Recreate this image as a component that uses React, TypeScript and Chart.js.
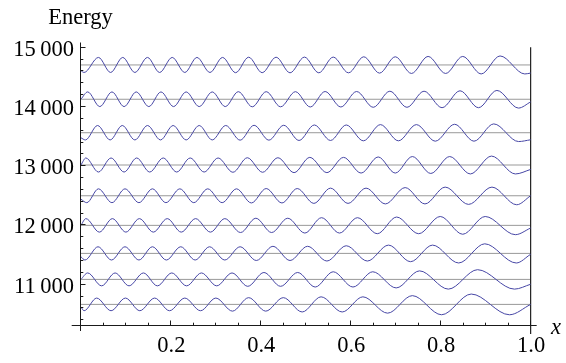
import React, { useEffect, useRef } from 'react';
import { Chart, registerables } from 'chart.js';

Chart.register(...registerables);

// Energy levels (grey horizontal lines), top to bottom
const levels = [14701, 14122, 13557, 13012, 12493, 11993, 11520, 11081, 10659];

// Wave curves: x positions of the read extrema (plus ends) and offsets from the level
const x1 = [0, 0.007, 0.039, 0.066, 0.093, 0.120, 0.148, 0.175, 0.203, 0.231, 0.258, 0.287, 0.315, 0.344, 0.373, 0.403, 0.434, 0.465, 0.497, 0.529, 0.561, 0.595, 0.629, 0.664, 0.699, 0.735, 0.772, 0.811, 0.849, 0.890, 0.932, 0.987, 1];
const d1 = [-97, -127, 127, -127, 127, -127, 127, -127, 127, -127, 127, -127, 127, -131, 131, -131, 131, -133, 133, -133, 133, -133, 138, -138, 138, -144, 144, -144, 144, -152, 152, -152, -137];

const x2 = [0, 0.015, 0.042, 0.069, 0.096, 0.123, 0.151, 0.178, 0.206, 0.234, 0.263, 0.292, 0.321, 0.350, 0.381, 0.412, 0.444, 0.477, 0.510, 0.543, 0.578, 0.613, 0.650, 0.687, 0.725, 0.763, 0.803, 0.843, 0.884, 0.925, 0.973, 1];
const d2 = [0, 124, -124, 124, -124, 124, -124, 124, -124, 124, -124, 124, -124, 128, -128, 128, -128, 128, -131, 131, -131, 131, -136, 136, -136, 136, -143, 143, -143, 149, -149, -45];

const x3 = [0, 0.010, 0.037, 0.065, 0.092, 0.120, 0.148, 0.177, 0.205, 0.234, 0.263, 0.292, 0.322, 0.354, 0.385, 0.418, 0.451, 0.485, 0.519, 0.555, 0.590, 0.628, 0.666, 0.706, 0.746, 0.788, 0.831, 0.874, 0.918, 0.973, 1];
const d3 = [-85, -122, 122, -122, 122, -122, 122, -122, 122, -122, 122, -122, 122, -126, 126, -126, 126, -131, 131, -131, 131, -137, 137, -137, 137, -143, 143, -143, 149, -149, -119];

const x4 = [0, 0.011, 0.039, 0.067, 0.096, 0.124, 0.153, 0.183, 0.213, 0.243, 0.274, 0.305, 0.338, 0.370, 0.404, 0.438, 0.474, 0.509, 0.547, 0.584, 0.623, 0.661, 0.699, 0.737, 0.778, 0.820, 0.866, 0.913, 0.966, 1];
const d4 = [0, 119, -119, 119, -119, 119, -119, 119, -119, 119, -119, 119, -123, 123, -123, 123, -129, 129, -129, 129, -136, 136, -136, 143, -143, 143, -151, 151, -151, -75];

const x5 = [0, 0.013, 0.039, 0.069, 0.098, 0.129, 0.159, 0.189, 0.220, 0.251, 0.282, 0.314, 0.346, 0.379, 0.412, 0.447, 0.481, 0.518, 0.555, 0.594, 0.634, 0.677, 0.721, 0.765, 0.810, 0.862, 0.914, 0.969, 1];
const d5 = [-58, -117, 117, -117, 117, -117, 117, -117, 117, -117, 117, -117, 117, -122, 122, -122, 122, -129, 129, -129, 129, -138, 138, -138, 146, -146, 146, -152, 0];

const x6 = [0, 0.011, 0.041, 0.070, 0.100, 0.130, 0.161, 0.192, 0.223, 0.255, 0.288, 0.320, 0.355, 0.389, 0.424, 0.460, 0.498, 0.535, 0.575, 0.615, 0.659, 0.702, 0.751, 0.799, 0.849, 0.899, 0.966, 1];
const d6 = [0, 114, -114, 114, -114, 114, -114, 114, -114, 114, -114, 114, -121, 121, -121, 121, -130, 130, -130, 130, -141, 141, -141, 150, -150, 150, -157, -45];

const x7 = [0, 0.009, 0.038, 0.068, 0.098, 0.129, 0.159, 0.190, 0.222, 0.254, 0.286, 0.320, 0.354, 0.390, 0.427, 0.465, 0.504, 0.547, 0.590, 0.637, 0.684, 0.733, 0.782, 0.840, 0.898, 0.968, 1];
const d7 = [-56, -112, 112, -112, 112, -112, 112, -112, 112, -112, 112, -112, 112, -120, 120, -120, 120, -129, 129, -129, 140, -140, 140, -162, 162, -162, -15];

const x8 = [0, 0.015, 0.046, 0.076, 0.107, 0.139, 0.170, 0.202, 0.235, 0.268, 0.302, 0.336, 0.371, 0.407, 0.444, 0.482, 0.521, 0.561, 0.605, 0.649, 0.701, 0.753, 0.817, 0.882, 0.964, 1];
const d8 = [0, 109, -109, 109, -109, 109, -109, 109, -109, 109, -109, 109, -117, 117, -117, 117, -129, 129, -129, 129, -144, 144, -164, 164, -164, -82];

const x9 = [0, 0.007, 0.035, 0.067, 0.099, 0.131, 0.164, 0.197, 0.231, 0.266, 0.300, 0.337, 0.373, 0.411, 0.450, 0.492, 0.534, 0.581, 0.627, 0.682, 0.737, 0.802, 0.868, 0.953, 1];
const d9 = [-43, -107, 107, -107, 107, -107, 107, -107, 107, -107, 107, -114, 114, -114, 114, -128, 128, -128, 128, -148, 148, -175, 175, -175, 0];

// Axes
const xTicks = [0.2, 0.4, 0.6, 0.8, 1.0];
const xTickLabels = ['0.2', '0.4', '0.6', '0.8', '1.0'];
const yTicks = [11000, 12000, 13000, 14000, 15000];
const yTickLabels = ['11\u2009000', '12\u2009000', '13\u2009000', '14\u2009000', '15\u2009000'];
const wallTop = 15000;
const wallBottom = 10160;
const axisOriginY = 10306;
const yMin = 10210;
const yMax = 15080;
const xMin = -0.0205;
const xMax = 1.0135;

const waveXs = [x1, x2, x3, x4, x5, x6, x7, x8, x9];
const waveDs = [d1, d2, d3, d4, d5, d6, d7, d8, d9];

const FONT = '"Liberation Serif", "Times New Roman", serif';

const axesPlugin = {
  id: 'mmaAxes',
  afterDatasetsDraw(chart: any) {
    const { ctx, chartArea, scales } = chart;
    const xs = scales.x;
    const ys = scales.y;
    ctx.save();
    ctx.strokeStyle = '#1a1a1a';
    ctx.lineWidth = 1;
    const ax = Math.floor(xs.getPixelForValue(0)) + 0.5;
    const ay = Math.floor(ys.getPixelForValue(axisOriginY)) + 0.5;
    ctx.beginPath();
    ctx.moveTo(ax, chartArea.top);
    ctx.lineTo(ax, chartArea.bottom);
    ctx.moveTo(chartArea.left, ay);
    ctx.lineTo(chartArea.right, ay);
    ctx.stroke();

    // y ticks
    ctx.beginPath();
    for (let v = 10400; v <= 15000; v += 200) {
      const py = Math.floor(ys.getPixelForValue(v)) + 0.5;
      const major = v % 1000 === 0;
      ctx.moveTo(ax, py);
      ctx.lineTo(ax + (major ? 5 : 2.8), py);
    }
    // x ticks
    for (let i = 1; i <= 20; i++) {
      const v = i * 0.05;
      const px = Math.floor(xs.getPixelForValue(v)) + 0.5;
      const major = i % 4 === 0;
      ctx.moveTo(px, ay);
      ctx.lineTo(px, ay - (major ? 5 : 2.8));
    }
    ctx.stroke();

    ctx.fillStyle = '#000';
    ctx.font = `22.5px ${FONT}`;
    ctx.textBaseline = 'alphabetic';
    ctx.textAlign = 'right';
    yTicks.forEach((v, i) => {
      ctx.fillText(yTickLabels[i], 74, ys.getPixelForValue(v) + 8.5);
    });
    ctx.textAlign = 'center';
    xTicks.forEach((v, i) => {
      ctx.fillText(xTickLabels[i], xs.getPixelForValue(v) + 0.5, 352);
    });
    ctx.fillText('Energy', 80.5, 23.5);
    ctx.font = `italic 22.5px ${FONT}`;
    ctx.textAlign = 'left';
    ctx.fillText('x', 551, 333.5);
    ctx.restore();
  },
};

export default function App() {
  const ref = useRef<HTMLCanvasElement>(null);
  useEffect(() => {
    const datasets: any[] = [];
    waveXs.forEach((xs, i) => {
      datasets.push({
        data: xs.map((x, j) => ({ x, y: levels[i] + waveDs[i][j] })),
        borderColor: 'rgb(70,70,165)',
        borderWidth: 1,
        showLine: true,
        pointRadius: 0,
        cubicInterpolationMode: 'monotone',
        order: 0,
      });
    });
    levels.forEach((L) => {
      datasets.push({
        data: [{ x: 0, y: L }, { x: 1, y: L }],
        borderColor: '#999999',
        borderWidth: 1,
        showLine: true,
        pointRadius: 0,
        order: 2,
      });
    });
    datasets.push({
      data: [{ x: 1, y: wallTop }, { x: 1, y: wallBottom }],
      borderColor: '#222',
      borderWidth: 1.2,
      showLine: true,
      pointRadius: 0,
      clip: false,
      order: 1,
    });

    const chart = new Chart(ref.current as HTMLCanvasElement, {
      type: 'scatter',
      data: { datasets },
      options: {
        responsive: false,
        maintainAspectRatio: false,
        devicePixelRatio: 1,
        animation: false,
        layout: { padding: { left: 71.7, right: 29.3, top: 42.5, bottom: 32 } },
        scales: {
          x: { type: 'linear', min: xMin, max: xMax, display: false },
          y: { type: 'linear', min: yMin, max: yMax, display: false },
        },
        plugins: { legend: { display: false }, tooltip: { enabled: false } },
      },
      plugins: [axesPlugin],
    } as any);
    return () => chart.destroy();
  }, []);
  return (
    <div style={{ position: 'fixed', left: 0, top: 0, width: 566, height: 363, background: '#fff' }}>
      <canvas ref={ref} width={566} height={363} style={{ display: 'block', width: 566, height: 363 }} />
    </div>
  );
}
